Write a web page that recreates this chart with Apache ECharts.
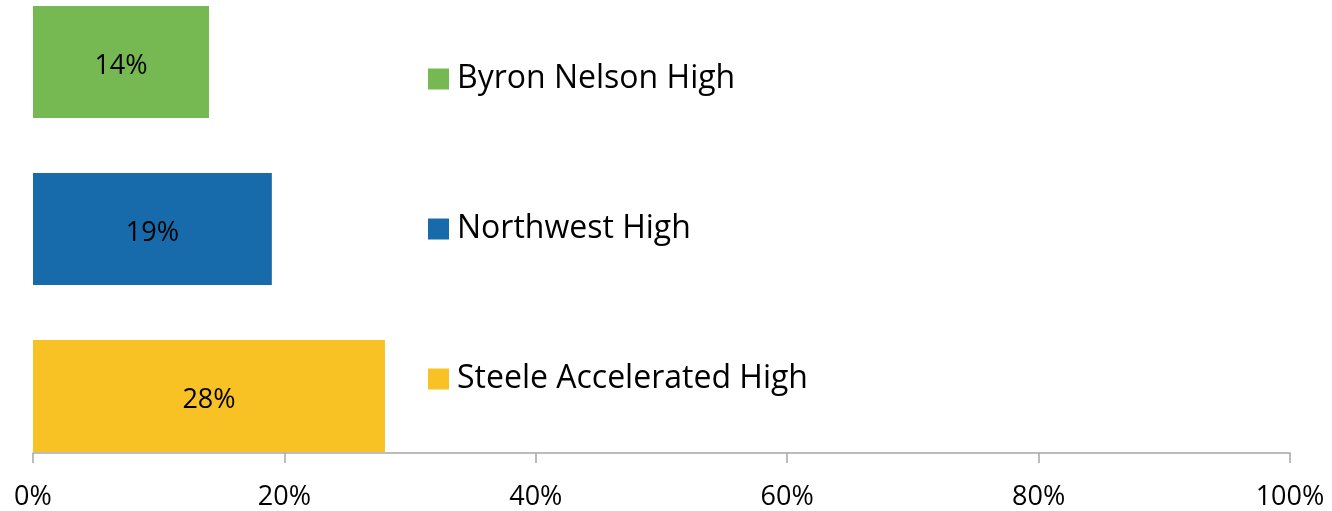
<!DOCTYPE html>
<html><head><meta charset="utf-8">
<script src="https://cdn.jsdelivr.net/npm/echarts@6/dist/echarts.min.js"></script>
<style>html,body{margin:0;padding:0;background:#fff}#c{width:1332px;height:511px}</style>
</head><body><div id="c"></div>
<script>
const seriesNames = ['Byron Nelson High', 'Northwest High', 'Steele Accelerated High'];
const seriesValues = [14, 19, 28];
const seriesColors = ['#76b852', '#176bab', '#f8c124'];
const xTicks = [0, 20, 40, 60, 80, 100];
const category = [''];

const chart = echarts.init(document.getElementById('c'));
const font = '"Open Sans", sans-serif';
const series = seriesNames.map((n, i) => ({
  name: n, type: 'bar', data: [seriesValues[i]],
  barWidth: 112, barGap: '49%',
  itemStyle: { color: seriesColors[i] },
  label: { show: true, position: 'inside', offset: [0, 4], formatter: '{c}%', color: '#000', fontSize: 27, fontFamily: font }
}));
chart.setOption({
  animation: false,
  grid: { left: 33, right: 42, top: 5, bottom: 58 },
  legend: {
    orient: 'vertical', left: 428, top: 63, padding: 0, itemWidth: 21, itemHeight: 21, itemGap: 118,
    icon: 'rect', data: seriesNames,
    textStyle: { fontSize: 32, fontFamily: font, color: '#000', lineHeight: 30, padding: [0, 0, 0, 3] }
  },
  xAxis: {
    type: 'value', min: xTicks[0], max: xTicks[xTicks.length - 1], interval: 20,
    axisLine: { show: true, lineStyle: { color: '#a6a6a6', width: 1.5 } },
    axisTick: { show: true, length: 10, lineStyle: { color: '#a6a6a6', width: 1.5 } },
    splitLine: { show: false },
    axisLabel: { formatter: '{value}%', fontSize: 27, fontFamily: font, color: '#000', margin: 31 }
  },
  yAxis: { type: 'category', data: category, show: false },
  series: series
});
</script></body></html>
